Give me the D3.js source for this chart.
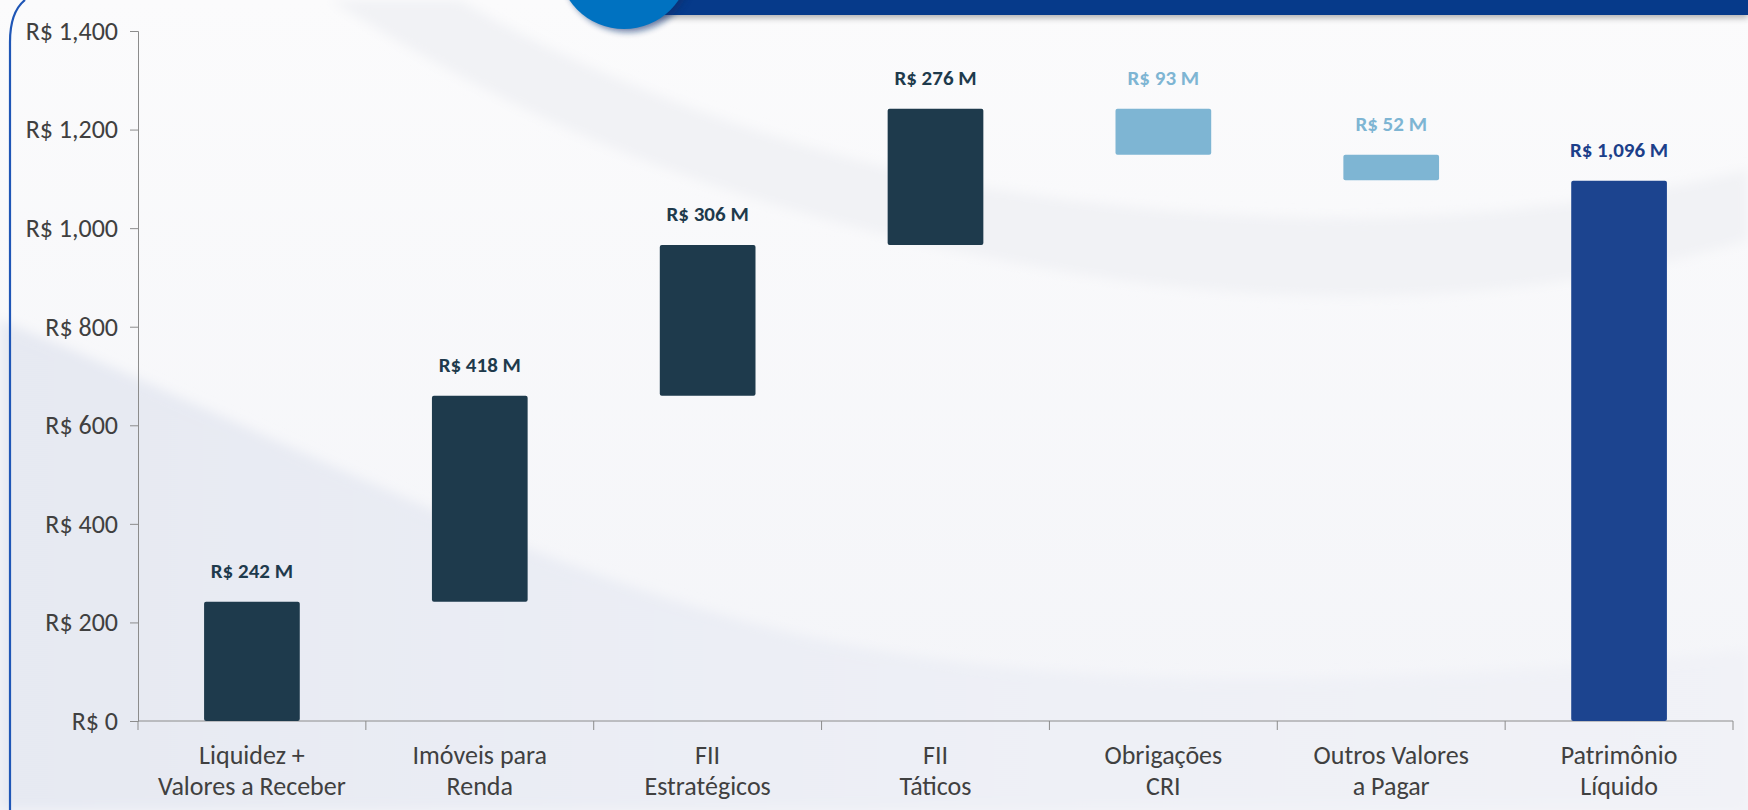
<!DOCTYPE html>
<html>
<head>
<meta charset="utf-8">
<script src="https://cdn.jsdelivr.net/npm/d3@7"></script>
<style>
  html, body { margin: 0; padding: 0; background: #fff; }
  svg { display: block; }
</style>
</head>
<body>
<svg id="chart"></svg>
<script>
// data (R$ millions)
const categories = [
  "Liquidez +\nValores a Receber",
  "Imóveis para\nRenda",
  "FII\nEstratégicos",
  "FII\nTáticos",
  "Obrigações\nCRI",
  "Outros Valores\na Pagar",
  "Patrimônio\nLíquido",
];
const values = [242, 418, 306, 276, -93, -52, 1096];
const kinds = ["up", "up", "up", "up", "down", "down", "total"];
const yTicks = [0, 200, 400, 600, 800, 1000, 1200, 1400];

const width = 1748;
const height = 810;
const margin = { top: 31, right: 15, bottom: 89, left: 138 };

const fill = { up: "#1e3a4c", down: "#7eb5d3", total: "#1c448f" };
const labelFill = { up: "#1e3a4c", down: "#7eb5d3", total: "#1c3f8a" };
const font = "Carlito, Calibri, Lato, 'Open Sans', sans-serif";

// running totals for the waterfall
let run = 0;
const bars = categories.map((c, i) => {
  const v = values[i];
  let y0, y1;
  if (kinds[i] === "total") {
    y0 = 0;
    y1 = v;
  } else {
    y0 = run;
    y1 = run + v;
    run = y1;
  }
  return { cat: c, value: v, kind: kinds[i], lo: Math.min(y0, y1), hi: Math.max(y0, y1) };
});

const svg = d3.select("#chart").attr("width", width).attr("height", height);

// --- background decoration
const defs = svg.append("defs");
const bg = defs.append("linearGradient").attr("id", "bg").attr("x1", 0).attr("y1", 0).attr("x2", 0).attr("y2", 1);
bg.append("stop").attr("offset", "0%").attr("stop-color", "#fbfbfc");
bg.append("stop").attr("offset", "100%").attr("stop-color", "#f3f4f8");
const shade = defs.append("linearGradient").attr("id", "shade").attr("x1", 0).attr("y1", 0).attr("x2", 1).attr("y2", 0);
shade.append("stop").attr("offset", "0%").attr("stop-color", "#e6e9f2");
shade.append("stop").attr("offset", "60%").attr("stop-color", "#eef0f6");
shade.append("stop").attr("offset", "100%").attr("stop-color", "#f1f2f7");
const blur = defs.append("filter").attr("id", "blur").attr("x", "-10%").attr("y", "-10%").attr("width", "120%").attr("height", "120%");
blur.append("feGaussianBlur").attr("stdDeviation", 6);
const hdrShadow = defs.append("filter").attr("id", "hdrShadow").attr("x", "-20%").attr("y", "-50%").attr("width", "140%").attr("height", "300%");
hdrShadow.append("feGaussianBlur").attr("stdDeviation", 3);

svg.append("rect").attr("width", width).attr("height", height).attr("fill", "url(#bg)");
// faint grey swoosh across the top
svg.append("path")
  .attr("d", "M330,0 C520,120 700,200 1000,260 C1300,320 1550,300 1748,240 L1748,170 C1500,230 1250,230 1000,190 C760,150 560,60 460,0 Z")
  .attr("fill", "#f1f2f5").attr("filter", "url(#blur)");
// grey-blue area at the lower left, under the white arc
svg.append("path")
  .attr("d", "M0,320 C250,420 520,570 800,635 C1050,690 1350,690 1748,650 L1748,810 L0,810 Z")
  .attr("fill", "url(#shade)").attr("filter", "url(#blur)");

// header band and circle
svg.append("rect").attr("x", 640).attr("y", 2).attr("width", width - 640).attr("height", 16)
  .attr("fill", "#555").attr("opacity", 0.45).attr("filter", "url(#hdrShadow)");
svg.append("rect").attr("x", 640).attr("y", 0).attr("width", width - 640).attr("height", 15).attr("fill", "#063a8a");
svg.append("circle").attr("cx", 628).attr("cy", -34).attr("r", 66)
  .attr("fill", "#0a2f6e").attr("opacity", 0.6).attr("filter", "url(#hdrShadow)");
svg.append("circle").attr("cx", 624).attr("cy", -37).attr("r", 66).attr("fill", "#0072c1");

// left frame line
svg.append("path").attr("d", "M10,810 L10,42 Q10,12 25,0")
  .attr("fill", "none").attr("stroke", "#1f56b6").attr("stroke-width", 2.2);

// --- scales
const x = d3.scaleBand()
  .domain(categories)
  .range([margin.left, width - margin.right])
  .paddingInner(0.58)
  .paddingOuter(0.29);

const y = d3.scaleLinear()
  .domain([0, 1400])
  .range([height - margin.bottom, margin.top]);

// --- axes
const axisColor = "#8c8c8c";
const yAxis = svg.append("g")
  .attr("transform", `translate(${margin.left},0)`)
  .call(d3.axisLeft(y).tickValues(yTicks).tickSize(8).tickPadding(12)
    .tickFormat(d => "R$ " + d3.format(",")(d)));
yAxis.select(".domain").attr("stroke", axisColor);
yAxis.selectAll(".tick line").attr("stroke", axisColor);
yAxis.selectAll(".tick text")
  .attr("fill", "#404040").attr("font-size", 26).attr("font-family", font);

// x axis: baseline, ticks at category boundaries
const x0 = x.range()[0];
const step = x.step();
const bounds = d3.range(categories.length + 1).map(i => x0 + i * step);
const xAxis = svg.append("g");
xAxis.append("line")
  .attr("x1", x.range()[0]).attr("x2", x.range()[1])
  .attr("y1", y(0)).attr("y2", y(0))
  .attr("stroke", axisColor);
xAxis.selectAll("line.tk").data(bounds).join("line").attr("class", "tk")
  .attr("x1", d => d).attr("x2", d => d)
  .attr("y1", y(0)).attr("y2", y(0) + 9)
  .attr("stroke", axisColor);
xAxis.selectAll("text").data(categories).join("text")
  .attr("x", d => x(d) + x.bandwidth() / 2)
  .attr("y", y(0) + 43)
  .attr("text-anchor", "middle")
  .attr("fill", "#404040")
  .attr("font-size", 26)
  .attr("font-family", font)
  .selectAll("tspan")
  .data(d => d.split("\n"))
  .join("tspan")
  .attr("x", function () { return d3.select(this.parentNode).attr("x"); })
  .attr("dy", (d, i) => (i === 0 ? 0 : 31))
  .text(d => d);

// --- bars
svg.append("g").selectAll("rect").data(bars).join("rect")
  .attr("x", d => x(d.cat))
  .attr("width", x.bandwidth())
  .attr("y", d => y(d.hi))
  .attr("height", d => y(d.lo) - y(d.hi))
  .attr("rx", 2)
  .attr("fill", d => fill[d.kind]);

// value labels
svg.append("g").selectAll("text").data(bars).join("text")
  .attr("x", d => x(d.cat) + x.bandwidth() / 2)
  .attr("y", d => y(d.hi) - 24)
  .attr("text-anchor", "middle")
  .attr("font-family", font)
  .attr("font-weight", "bold")
  .attr("font-size", 21)
  .attr("fill", d => labelFill[d.kind])
  .text(d => "R$ " + d3.format(",")(Math.abs(d.value)) + " M");
</script>
</body>
</html>
